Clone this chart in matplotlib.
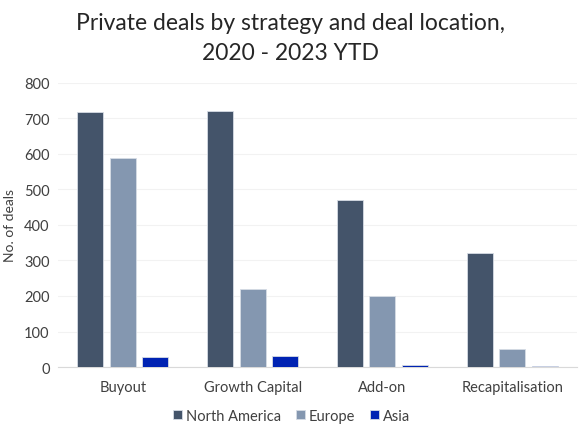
import numpy as np
import matplotlib.pyplot as plt

plt.rcParams['font.family'] = ['Lato', 'DejaVu Sans']

strategies = ["Buyout", "Growth Capital", "Add-on", "Recapitalisation"]
north_america = [719, 720, 470, 322]
europe = [588, 221, 201, 50]
asia = [27, 32, 5, 3]

series = [("North America", north_america, '#44546A'),
          ("Europe", europe, '#8497B0'),
          ("Asia", asia, '#0023B3')]

fig = plt.figure(figsize=(5.8, 4.35), dpi=100)
ax = fig.add_axes([0.1, 0.154, 0.895, 0.653])

x = np.arange(len(strategies))
for i, (name, vals, col) in enumerate(series):
    ax.bar(x + (i - 1) * 0.25, vals, width=0.2, color=col, label=name,
           edgecolor='#D6DCE5', linewidth=0.6, zorder=3)

ax.set_xlim(-0.5, 3.5)
ax.set_ylim(0, 800)
ax.set_yticks(range(0, 801, 100))
ax.set_xticks(x)
ax.set_xticklabels(strategies)
ax.grid(axis='y', color='#F2F2F2', linewidth=0.8, zorder=0)
for s in ['top', 'right', 'left']:
    ax.spines[s].set_visible(False)
ax.spines['bottom'].set_color('#D9D9D9')
ax.tick_params(axis='both', length=0, labelsize=10.5, colors='#404040', pad=6)
ax.tick_params(axis='x', pad=9)
ax.set_ylabel("No. of deals", fontsize=10, color='#404040', labelpad=6)

fig.suptitle("Private deals by strategy and deal location,\n2020 - 2023 YTD",
             fontsize=16.5, color='#262626', y=0.97, x=0.5, linespacing=1.55)

ax.legend(loc='upper center', bbox_to_anchor=(0.45, -0.1), ncol=3, frameon=False,
          fontsize=10.5, handlelength=0.6, handleheight=0.6, handletextpad=0.3,
          columnspacing=1.0, labelcolor='#404040')

fig.savefig('out.png', dpi=100)
